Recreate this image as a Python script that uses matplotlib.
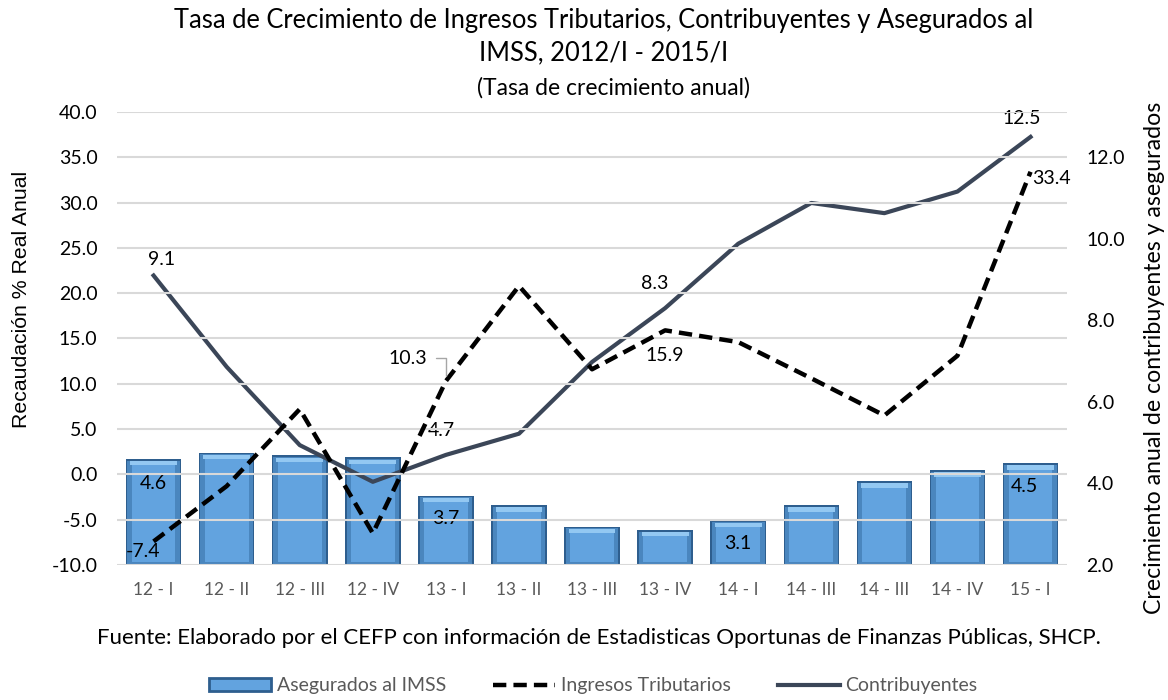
#!/usr/bin/env python3
# -*- coding: utf-8 -*-

"""Tasa de crecimiento de ingresos tributarios, contribuyentes y asegurados."""

# dependencies
import numpy as np
from matplotlib import pyplot as plt
from matplotlib.patches import Patch
from matplotlib.lines import Line2D

# data
trimestres = ['12 - I', '12 - II', '12 - III', '12 - IV', '13 - I', '13 - II', '13 - III',
              '13 - IV', '14 - I', '14 - III', '14 - III', '14 - IV', '15 - I']
asegurados = [4.6, 4.75, 4.69, 4.64, 3.7, 3.47, 2.94, 2.86, 3.1, 3.47, 4.06, 4.33, 4.5]
ingresos = [-7.4, -1.3, 7.2, -6.5, 10.3, 20.8, 11.6, 15.9, 14.6, 10.6, 6.5, 13.1, 33.4]
contribuyentes = [9.1, 6.86, 4.94, 4.04, 4.7, 5.22, 6.98, 8.3, 9.88, 10.88, 10.63, 11.16, 12.5]

left_ticks = np.arange(-10, 41, 5)
right_ticks = np.arange(2, 13, 2)

# labelled points: index -> offset in pixels
etiquetas_ase = {0: (0, -25), 4: (0, -23), 8: (0, -23), 12: (-6, -23)}
etiquetas_ing = {0: (-11, -10), 7: (0, -25), 12: (21, -7)}
etiquetas_con = {0: (8, 16), 4: (-5, 24), 7: (-10, 25), 12: (-9, 18)}

plt.rcParams['font.family'] = ['Lato', 'DejaVu Sans']

fig = plt.figure(figsize=(11.68, 7), dpi=100)

# main axes: right scale (bars and contribuyentes)
ax = fig.add_axes([0.1002, 0.1929, 0.8134, 0.6471])
x = np.arange(len(trimestres))

# bars with a simple bevel look
ase = np.array(asegurados)
ax.bar(x, ase - 2, bottom=2, width=0.76, color='#2E5E8E', zorder=2)
ax.bar(x, ase - 2 - 0.04, bottom=2, width=0.72, color='#4A86BE', zorder=2)
ax.bar(x, ase - 2 - 0.2, bottom=2.07, width=0.6, color='#62A3DF', zorder=3)
ax.bar(x, np.full(len(x), 0.1), bottom=ase - 0.16, width=0.64, color='#93C8F2', zorder=3)

ax.plot(x, contribuyentes, color='#3B4658', linewidth=3, zorder=5)

ax.set_ylim(2, 2 + 50 / 4.5)
ax.set_xlim(-0.5, len(x) - 0.5)
ax.set_xticks(x)
ax.set_xticklabels(trimestres, color='#595959', fontsize=12.5)

# twin axes: left scale (ingresos)
ax2 = ax.twinx()
ax2.plot(x, ingresos, color='black', linewidth=3.2, linestyle=(0, (3, 1.6)), zorder=6)
ax2.set_ylim(-10, 40)
ax2.set_yticks(left_ticks)
ax2.set_yticklabels(['%.1f' % v for v in left_ticks])
ax2.yaxis.tick_left()
ax2.yaxis.set_label_position('left')
ax2.set_ylabel('Recaudación % Real Anual', fontsize=15.3, family='Liberation Sans')
ax2.yaxis.set_label_coords(-0.0905, 0.587)
ax2.grid(axis='y', color='#D9D9D9', linewidth=1.5, zorder=0)

# twinx moves the main ticks, put them back on the right
ax.set_yticks(right_ticks)
ax.set_yticklabels(['%.1f' % v for v in right_ticks])
ax.yaxis.tick_right()
ax.yaxis.set_label_position('right')
ax.set_ylabel('Crecimiento anual de contribuyentes y asegurados', fontsize=16.7)
ax.yaxis.set_label_coords(1.081, 0.457)

for a in (ax, ax2):
    for s in a.spines.values():
        s.set_visible(False)
    a.tick_params(axis='y', length=0, labelsize=14, pad=14)
ax.tick_params(axis='x', length=0, pad=12)

# data labels
for i, off in etiquetas_ase.items():
    ax.annotate('%.1f' % asegurados[i], (x[i], asegurados[i]), xytext=off,
                textcoords='offset pixels', ha='center', va='center', fontsize=14, zorder=8)
for i, off in etiquetas_ing.items():
    ax2.annotate('%.1f' % ingresos[i], (x[i], ingresos[i]), xytext=off,
                 textcoords='offset pixels', ha='center', va='center', fontsize=14, zorder=8)
for i, off in etiquetas_con.items():
    ax.annotate('%.1f' % contribuyentes[i], (x[i], contribuyentes[i]), xytext=off,
                textcoords='offset pixels', ha='center', va='center', fontsize=14, zorder=8)

# 10.3 label with leader line
ax2.annotate('%.1f' % ingresos[4], (x[4], ingresos[4]), xytext=(-38, 23),
             textcoords='offset pixels', ha='center', va='center', fontsize=14, zorder=8,
             arrowprops=dict(arrowstyle='-', color='#A6A6A6', lw=1, relpos=(1.0, 0.5),
                             connectionstyle='angle,angleA=0,angleB=90,rad=0',
                             shrinkA=4, shrinkB=4))

# titles
fig.text(0.517, 0.971, 'Tasa de Crecimiento de Ingresos Tributarios, Contribuyentes y Asegurados al',
         ha='center', va='center', fontsize=18.4)
fig.text(0.517, 0.925, 'IMSS, 2012/I - 2015/I', ha='center', va='center', fontsize=18.4)
fig.text(0.525, 0.874, '(Tasa de crecimiento anual)', ha='center', va='center', fontsize=16.5)

fig.text(0.513, 0.088, 'Fuente: Elaborado por el CEFP con información de Estadisticas Oportunas '
         'de Finanzas Públicas, SHCP.', ha='center', va='center', fontsize=16)

# legend
handles = [Patch(facecolor='#62A3DF', edgecolor='#2E5E8E', linewidth=2),
           Line2D([], [], color='black', linewidth=3.2, linestyle=(0, (3, 1.6))),
           Line2D([], [], color='#3B4658', linewidth=3)]
labels = ['Asegurados al IMSS', 'Ingresos Tributarios', 'Contribuyentes']
leg = fig.legend(handles, labels, loc='center', bbox_to_anchor=(0.508, 0.02), ncol=3,
                 frameon=False, fontsize=14, handlelength=3.2, handleheight=0.6,
                 columnspacing=2.4, handletextpad=0.3)
for t in leg.get_texts():
    t.set_color('#595959')

plt.savefig('out.png', dpi=100)
